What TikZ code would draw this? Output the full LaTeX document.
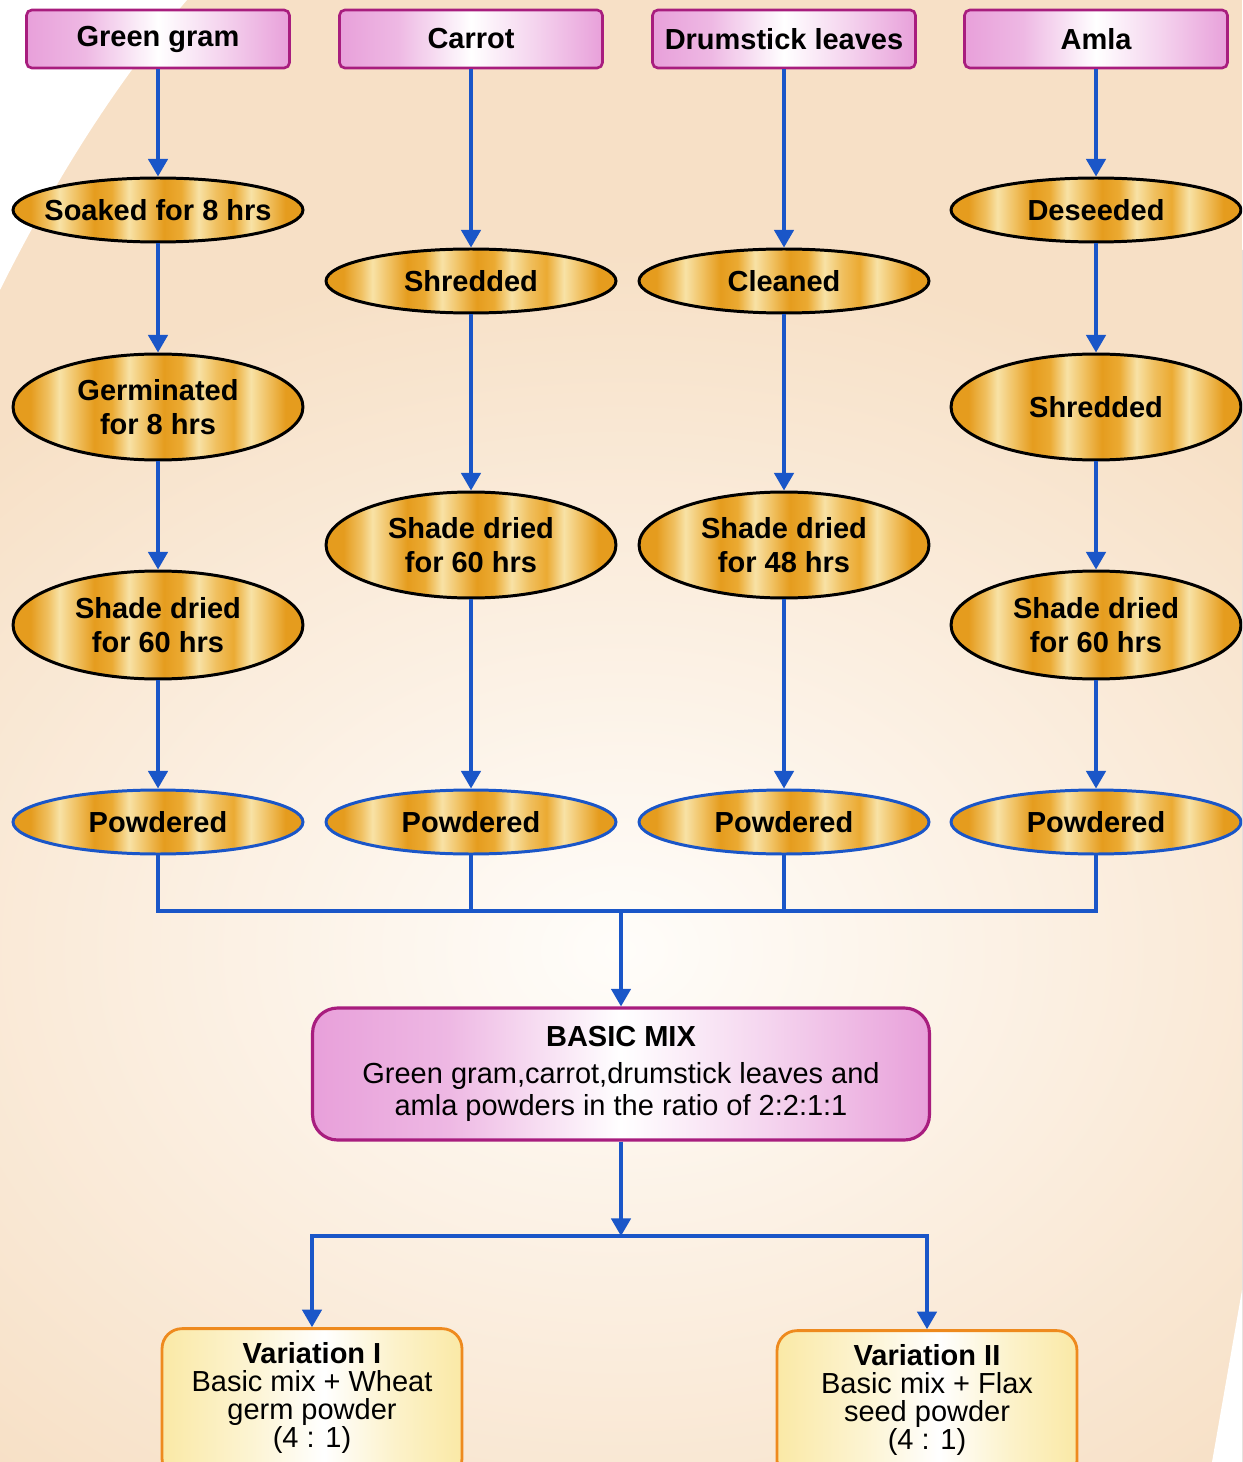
\documentclass[tikz,border=0pt]{standalone}
\usepackage{fontspec}
\setmainfont{Liberation Sans}
\usetikzlibrary{shapes.geometric,arrows.meta}

\definecolor{peach}{HTML}{F7E0C6}
\definecolor{peachlight}{HTML}{FFFDFA}
\definecolor{flowblue}{HTML}{1A56C8}
\definecolor{boxpink}{HTML}{E8A0DA}
\definecolor{boxrim}{HTML}{A81D7E}
\definecolor{goldA}{HTML}{E59C1E}
\definecolor{goldB}{HTML}{F0C060}
\definecolor{goldC}{HTML}{F8E2A6}
\definecolor{goldD}{HTML}{EBAA32}
\definecolor{varrim}{HTML}{EE8A1E}
\definecolor{varfill}{HTML}{FAE9A6}

\pgfdeclarehorizontalshading{pinkband}{100bp}{color(0bp)=(boxpink); color(25bp)=(boxpink);
  color(36bp)=(boxpink!75!white); color(50bp)=(white); color(62bp)=(boxpink!45!white);
  color(75bp)=(boxpink); color(100bp)=(boxpink)}
\pgfdeclarehorizontalshading{goldband}{100bp}{color(0bp)=(goldA); color(25bp)=(goldA);
  color(28bp)=(goldA); color(31bp)=(goldB); color(33bp)=(goldC); color(36bp)=(goldB);
  color(39bp)=(goldA); color(42bp)=(goldD); color(45bp)=(goldC); color(48bp)=(goldB);
  color(51bp)=(goldA); color(54bp)=(goldD); color(57bp)=(goldC); color(60bp)=(goldB);
  color(63bp)=(goldD); color(66bp)=(goldC); color(69bp)=(goldB); color(72bp)=(goldA);
  color(75bp)=(goldA); color(100bp)=(goldA)}
\pgfdeclarehorizontalshading{yellowband}{100bp}{color(0bp)=(varfill); color(25bp)=(varfill);
  color(40bp)=(varfill!50!white); color(52bp)=(white); color(64bp)=(varfill!60!white);
  color(75bp)=(varfill); color(100bp)=(varfill)}

\begin{document}
\begin{tikzpicture}[x=0.02cm,y=-0.02cm,
    source/.style={draw=boxrim,line width=1.5pt,rounded corners=3pt,shade,shading=pinkband,
      minimum width=5.26cm,minimum height=1.16cm,font=\fontsize{16.5}{18}\selectfont\bfseries},
    stage/.style={ellipse,draw=black,line width=1.7pt,shade,shading=goldband,inner sep=0pt,
      minimum width=5.8cm,align=center,font=\fontsize{16.5}{19}\selectfont\bfseries},
    powder/.style={stage,draw=flowblue,minimum height=1.28cm},
    mixbox/.style={draw=boxrim,line width=1.8pt,rounded corners=0.5cm,shade,shading=pinkband,
      minimum width=12.34cm,minimum height=2.64cm,align=center,font=\fontsize{16.5}{18}\selectfont},
    varbox/.style={draw=varrim,line width=1.6pt,rounded corners=0.4cm,shade,shading=yellowband,
      minimum width=6cm,minimum height=3cm},
    vartext/.style={align=center,font=\fontsize{16.5}{16}\selectfont},
    flow/.style={draw=flowblue,line width=2pt,-{Triangle[width=11pt,length=10pt]}},
    bus/.style={draw=flowblue,line width=2pt}]

    % background
    \useasboundingbox (0,0) rectangle (1242,1462);
    \clip (0,0) rectangle (1242,1462);
    \fill[peach] (0,0) rectangle (1242,1462);
    \fill[inner color=peachlight,outer color=peach] (-300,250) rectangle (1540,1650);
    \fill[white] (0,0) -- (187,0) .. controls (110,90) and (50,190) .. (0,290) -- cycle;
    \fill[white] (1242,1290) -- (1242,1462) -- (1212,1462) -- cycle;

    % raw materials
    \node[source] (gg) at (158,39) {Green gram};
    \node[source] (ca) at (471,39) {Carrot};
    \node[source] (dl) at (784,39) {Drumstick leaves};
    \node[source] (am) at (1096,39) {Amla};

    % green gram
    \node[stage,minimum height=1.28cm,inner xsep=-4mm] (gsoak) at (158,210) {Soaked for 8 hrs};
    \node[stage,minimum height=2.12cm] (ggerm) at (158,407) {Germinated\\for 8 hrs};
    \node[stage,minimum height=2.16cm] (gdry) at (158,625) {Shade dried\\for 60 hrs};
    \node[powder] (gpow) at (158,822) {Powdered};

    % carrot
    \node[stage,minimum height=1.28cm] (cshred) at (471,281) {Shredded};
    \node[stage,minimum height=2.12cm] (cdry) at (471,545) {Shade dried\\for 60 hrs};
    \node[powder] (cpow) at (471,822) {Powdered};

    % drumstick leaves
    \node[stage,minimum height=1.28cm] (dclean) at (784,281) {Cleaned};
    \node[stage,minimum height=2.12cm] (ddry) at (784,545) {Shade dried\\for 48 hrs};
    \node[powder] (dpow) at (784,822) {Powdered};

    % amla
    \node[stage,minimum height=1.28cm] (aseed) at (1096,210) {Deseeded};
    \node[stage,minimum height=2.12cm] (ashred) at (1096,407) {Shredded};
    \node[stage,minimum height=2.16cm] (adry) at (1096,625) {Shade dried\\for 60 hrs};
    \node[powder] (apow) at (1096,822) {Powdered};

    \draw[flow] (gg) -- (gsoak);
    \draw[flow] (gsoak) -- (ggerm);
    \draw[flow] (ggerm) -- (gdry);
    \draw[flow] (gdry) -- (gpow);

    \draw[flow] (ca) -- (cshred);
    \draw[flow] (cshred) -- (cdry);
    \draw[flow] (cdry) -- (cpow);

    \draw[flow] (dl) -- (dclean);
    \draw[flow] (dclean) -- (ddry);
    \draw[flow] (ddry) -- (dpow);

    \draw[flow] (am) -- (aseed);
    \draw[flow] (aseed) -- (ashred);
    \draw[flow] (ashred) -- (adry);
    \draw[flow] (adry) -- (apow);

    % mixing
    \node[mixbox] (mix) at (621,1074) {\textbf{BASIC MIX}\\[3pt]Green gram,carrot,drumstick leaves and\\amla powders in the ratio of 2:2:1:1};
    \coordinate (join) at (621,911);
    \draw[bus] (gpow.south) |- (join) -| (apow.south);
    \draw[bus] (cpow.south) -- (cpow.south |- join);
    \draw[bus] (dpow.south) -- (dpow.south |- join);
    \draw[flow] (join) -- (mix);

    % variations
    \node[varbox] (varone) at (312,1480) [anchor=south] {};
    \node[varbox] (vartwo) at (927,1482) [anchor=south] {};
    \node[vartext] (vonetext) at (312,1398) {\textbf{Variation I}\\Basic mix + Wheat\\germ powder\\(4 : 1)};
    \node[vartext] (vtwotext) at (927,1400) {\textbf{Variation II}\\Basic mix + Flax\\seed powder\\(4 : 1)};
    \coordinate (fork) at (621,1236);
    \draw[flow] (mix) -- (fork);
    \draw[flow] (fork) -| (varone.north);
    \draw[flow] (fork) -| (vartwo.north);
\end{tikzpicture}
\end{document}
